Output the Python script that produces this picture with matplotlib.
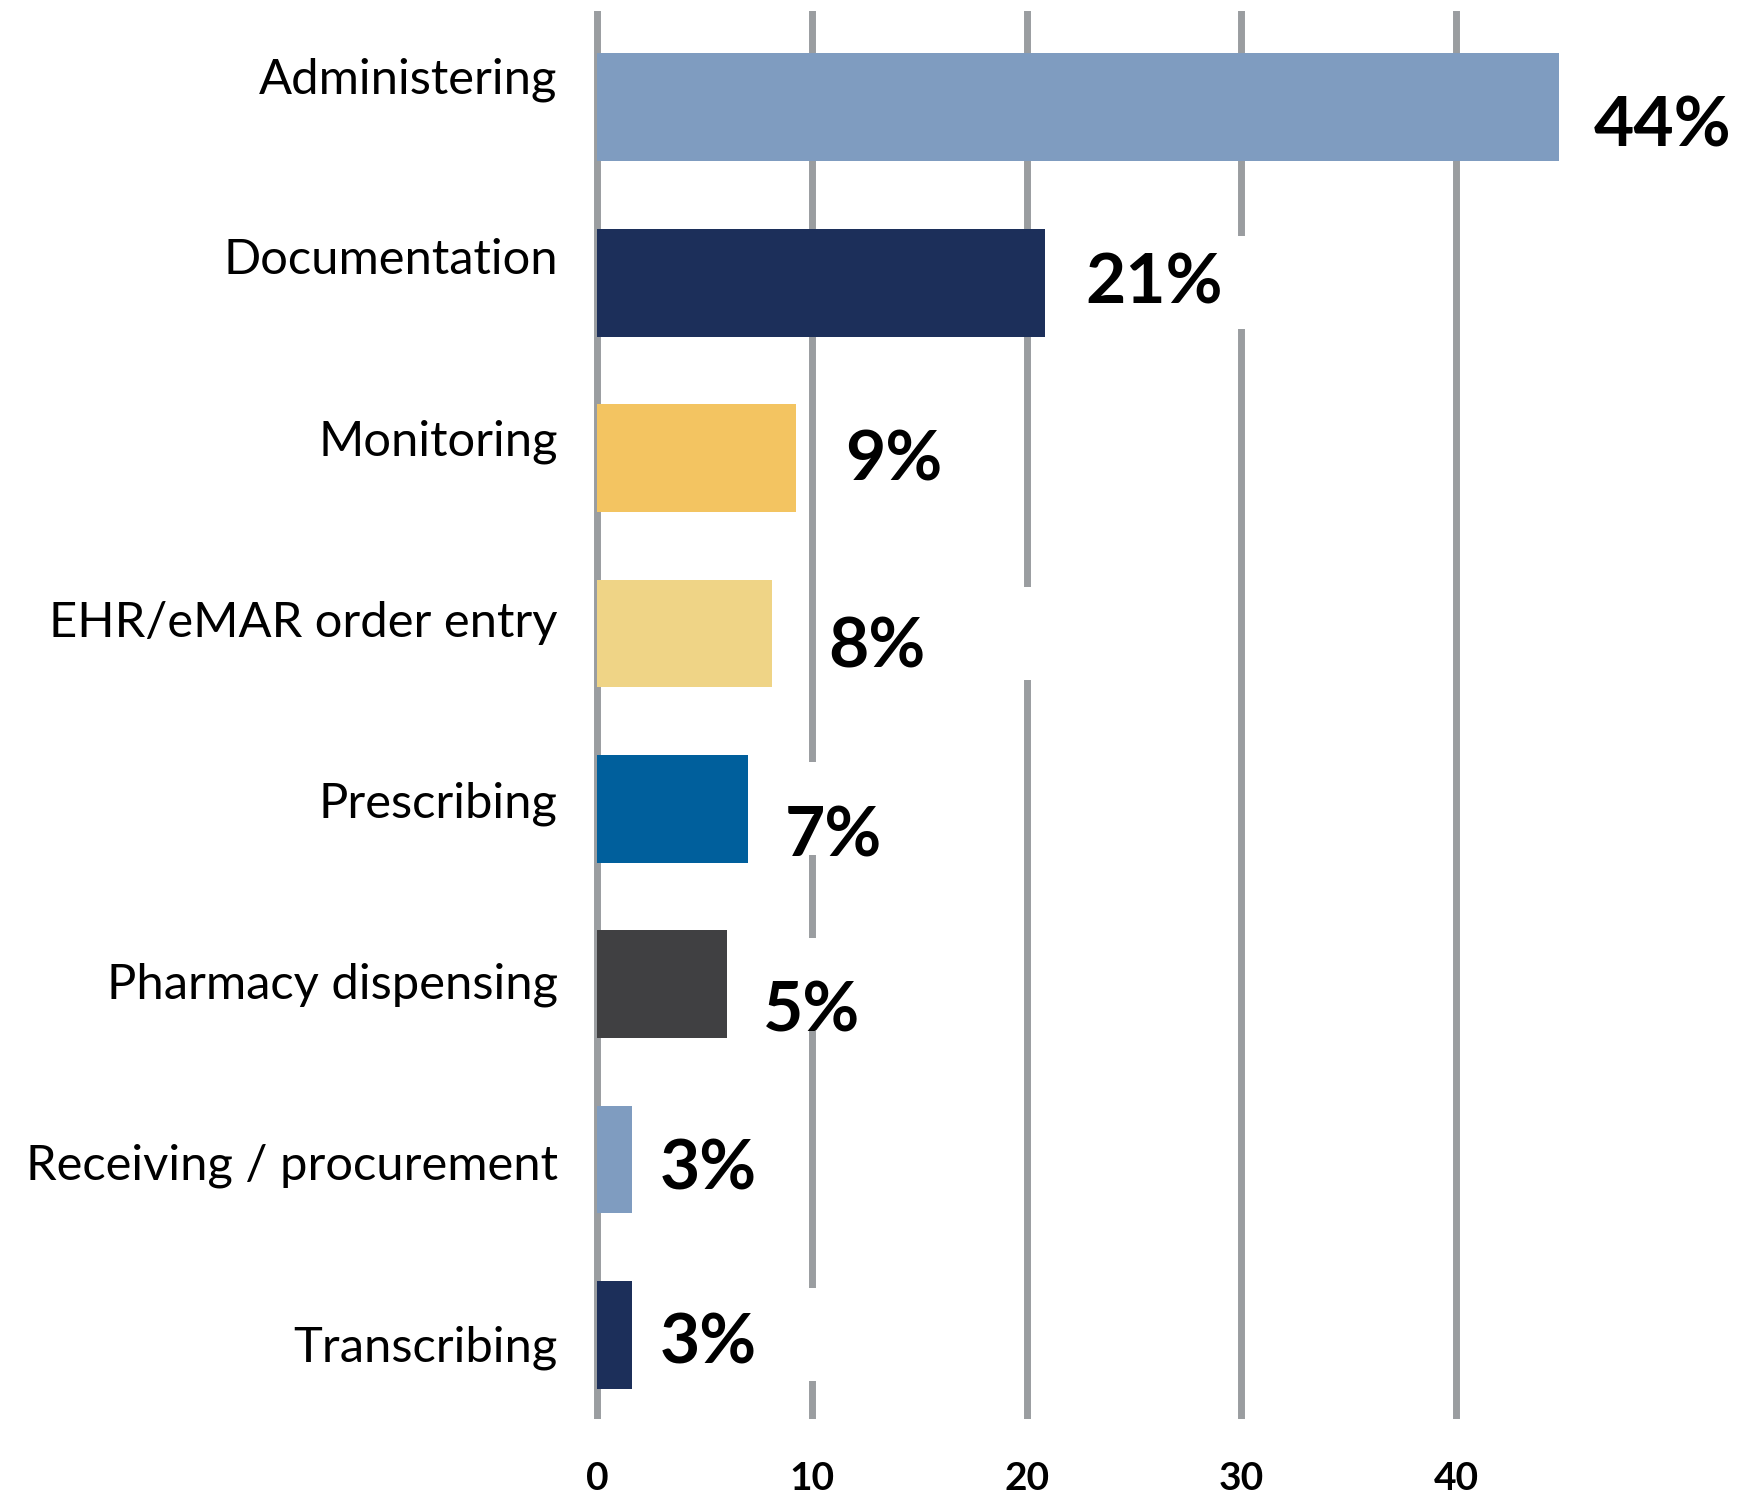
import matplotlib.pyplot as plt

categories = ['Administering', 'Documentation', 'Monitoring', 'EHR/eMAR order entry',
              'Prescribing', 'Pharmacy dispensing', 'Receiving / procurement', 'Transcribing']
values = [44.8, 20.85, 9.26, 8.14, 7.02, 6.02, 1.6, 1.6]
labels = ['44%', '21%', '9%', '8%', '7%', '5%', '3%', '3%']
colors = ['#7F9CC0', '#1C2F5A', '#F3C461', '#EFD486', '#005F9C', '#404042', '#7F9CC0', '#1C2F5A']

# label placement tweaks (offset after bar end, vertical shift, white box span)
label_dx = [1.6, 1.9, 2.3, 2.6, 1.7, 1.7, 1.3, 1.3]
label_dy = [0.11, 0.01, 0.015, 0.083, 0.16, 0.16, 0.058, 0.055]
box_left = [1.5, 1.5, 2.0, 2.4, 1.4, 1.5, 1.2, 1.2]
box_width = [5.0, 8.2, 4.0, 10.2, 5.0, 4.5, 5.0, 8.0]

plt.rcParams['font.family'] = ['Lato', 'DejaVu Sans']

fig = plt.figure(figsize=(17.63, 14.97), dpi=100)
ax = fig.add_axes([0.3352, 0.0521, 0.6125, 0.9406])

y = list(range(len(categories)))
ax.barh(y, values, height=0.615, color=colors, zorder=2)

# white boxes behind the value labels that break the grid lines
ax.barh(y, box_width, left=[v + b for v, b in zip(values, box_left)],
        height=0.53, color='white', zorder=1.5)

for i, v in enumerate(values):
    ax.text(v + label_dx[i], i + label_dy[i], labels[i], fontsize=50, fontweight='bold',
            ha='left', va='center', zorder=3)

for i, c in enumerate(categories):
    ax.text(-1.85, -0.16 + i * 1.033, c, fontsize=35.2, ha='right', va='center')

ax.set_xlim(-0.3, 50)
ax.set_ylim(7.48, -0.55)
ax.set_xticks([0, 10, 20, 30, 40])
ax.set_yticks([])
ax.tick_params(axis='x', length=0, pad=30, labelsize=28)
for t in ax.get_xticklabels():
    t.set_fontweight('bold')
ax.grid(axis='x', color='#9A9DA0', linewidth=5, zorder=1)
ax.set_axisbelow(True)
for s in ax.spines.values():
    s.set_visible(False)

fig.savefig('out.png', dpi=100)
